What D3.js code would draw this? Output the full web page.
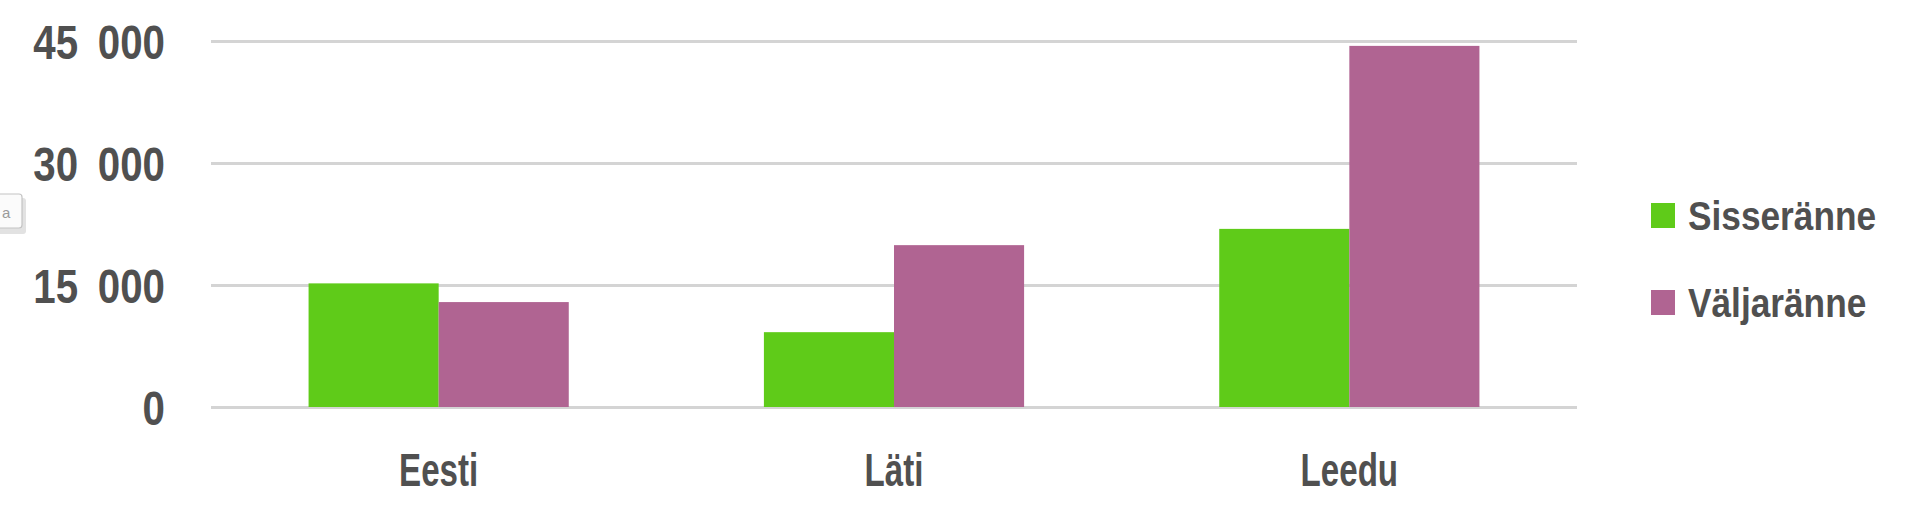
<!DOCTYPE html>
<html>
<head>
<meta charset="utf-8">
<script src="https://cdn.jsdelivr.net/npm/d3@7"></script>
<style>
  html, body { margin: 0; padding: 0; background: #ffffff; }
  svg { display: block; }
  text { font-family: "Liberation Sans Narrow", "Liberation Sans", "DejaVu Sans Condensed", sans-serif; font-weight: bold; fill: #505050; }
</style>
</head>
<body>
<svg id="chart" width="1920" height="525"></svg>
<script>
// ---- data ----
const categories = ["Eesti", "Läti", "Leedu"];
const seriesNames = ["Sisseränne", "Väljaränne"];
const sisseranne = [15200, 9200, 21900];
const valjaranne = [12900, 19900, 44400];
const yTicks = [0, 15000, 30000, 45000];
const yTickLabels = ["0", "15 000", "30 000", "45 000"];
const colors = ["#5fcb19", "#b06492"];

const seriesValues = [sisseranne, valjaranne];
const rows = categories.map((c, i) => ({
  category: c,
  values: seriesNames.map((s, k) => ({ series: s, value: seriesValues[k][i], k }))
}));

const svg = d3.select("#chart");
const plot = { left: 211, right: 1577, top: 41, bottom: 407 };

const x0 = d3.scaleBand().domain(categories).range([plot.left, plot.right]).paddingInner(0).paddingOuter(0);
const x1 = d3.scaleBand().domain(seriesNames).range([0, x0.bandwidth()]).paddingInner(0).paddingOuter(0.75);
const y = d3.scaleLinear().domain([0, 45000]).range([plot.bottom, plot.top]);

// tooltip-like artifact at the left edge
const tip = svg.append("g");
tip.append("rect").attr("x", -12).attr("y", 196).attr("width", 36).attr("height", 36)
  .attr("rx", 3).attr("fill", "#e2e2e2").attr("transform", "translate(2,2)");
tip.append("rect").attr("x", -12).attr("y", 194).attr("width", 34).attr("height", 34)
  .attr("rx", 3).attr("fill", "#fbfbfb").attr("stroke", "#c4c4c4").attr("stroke-width", 1.2);
tip.append("text").attr("x", 2).attr("y", 218).attr("font-size", 15)
  .style("font-weight", "normal").style("fill", "#9a9a9a").text("a");

// gridlines via axis
const yGrid = d3.axisLeft(y).tickValues(yTicks).tickSize(-(plot.right - plot.left)).tickFormat("");
svg.append("g").attr("transform", `translate(${plot.left},0)`).call(yGrid)
  .call(g => g.select(".domain").remove())
  .call(g => g.selectAll("line").attr("stroke", "#d4d4d4").attr("stroke-width", 3));

// y labels (condensed)
const yAxis = d3.axisLeft(y).tickValues(yTicks).tickSize(0).tickPadding(0)
  .tickFormat((d, i) => yTickLabels[i]);
svg.append("g").attr("transform", `translate(${plot.left},0)`).call(yAxis)
  .call(g => g.select(".domain").remove())
  .call(g => g.selectAll("text").attr("font-size", 48).attr("font-family", null)
    .attr("x", 0).attr("dy", "0.36em").attr("transform", "translate(-46,0) scale(0.84,1)")
    .style("white-space", "pre").attr("word-spacing", 10));

// bars
const groups = svg.append("g").selectAll("g").data(rows).join("g")
  .attr("transform", d => `translate(${x0(d.category)},0)`);
groups.selectAll("rect").data(d => d.values).join("rect")
  .attr("x", d => x1(d.series))
  .attr("width", x1.bandwidth())
  .attr("y", d => y(d.value))
  .attr("height", d => y(0) - y(d.value))
  .attr("fill", d => colors[d.k]);

// category labels (condensed)
const xAxis = d3.axisBottom(x0).tickSize(0).tickPadding(0);
svg.append("g").attr("transform", `translate(0,${plot.bottom})`).call(xAxis)
  .call(g => g.select(".domain").remove())
  .call(g => g.selectAll("text").attr("font-size", 46).attr("font-family", null)
    .attr("y", 0).attr("dy", "0.71em").attr("transform", "translate(0,46) scale(0.72,1)"));

// legend
const legend = svg.append("g").attr("transform", "translate(1651,203)");
const li = legend.selectAll("g").data(seriesNames).join("g")
  .attr("transform", (d, i) => `translate(0,${i * 87})`);
li.append("rect").attr("width", 24).attr("height", 25).attr("fill", (d, i) => colors[i]);
li.append("text").attr("x", 0).attr("y", 0).attr("font-size", 41)
  .attr("transform", "translate(37,27) scale(0.86,1)").text(d => d);
</script>
</body>
</html>
